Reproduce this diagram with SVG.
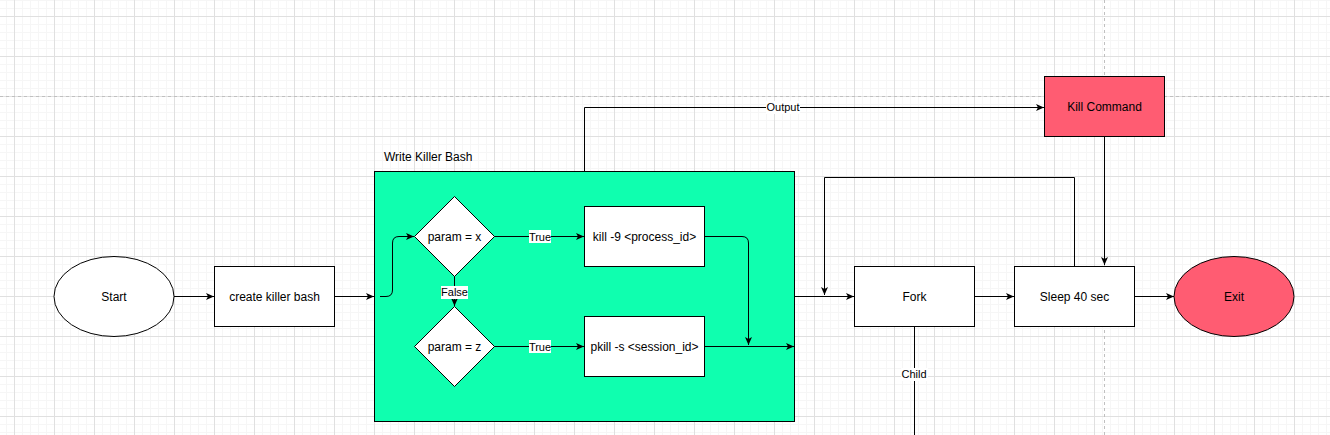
<svg xmlns="http://www.w3.org/2000/svg" width="1330" height="435" viewBox="0 0 1330 435">
<style>
.n{stroke:#000;stroke-width:1}
.t{font-family:"Liberation Sans",Arial,sans-serif;font-size:12px;fill:#000;text-anchor:middle;dominant-baseline:central}
.lb{font-family:"Liberation Sans",Arial,sans-serif;font-size:11px;fill:#000;text-anchor:middle;dominant-baseline:central}
.e{fill:none;stroke:#000;stroke-width:1}
.ea{fill:none;stroke:#000;stroke-width:1;marker-end:url(#arr)}
</style>
<defs>
<marker id="arr" markerWidth="10" markerHeight="8" refX="8" refY="3.5" orient="auto" markerUnits="userSpaceOnUse">
<path d="M0,0 L8,3.5 L0,7 L2,3.5 z" fill="#000"/>
</marker>
<pattern id="grid" x="14" y="16" width="40" height="40" patternUnits="userSpaceOnUse">
<path d="M8.5,0V40M16.5,0V40M24.5,0V40M32.5,0V40M0,8.5H40M0,16.5H40M0,24.5H40M0,32.5H40" stroke="#f6f6f6" stroke-width="1"/>
<path d="M0.5,0V40M0,0.5H40" stroke="#e0e0e0" stroke-width="1"/>
</pattern>
</defs>
<rect width="1330" height="435" fill="#fff"/>
<rect width="1330" height="435" fill="url(#grid)"/>
<path d="M0,96.5H1330M1104.5,0V435" stroke="#c0c0c0" stroke-width="1" stroke-dasharray="3,3"/>

<g id="container">
<rect x="374.5" y="171.5" width="420" height="250" fill="#0FFFAF" class="n"/>
<text x="384" y="157" class="t" style="text-anchor:start">Write Killer Bash</text>
</g>

<g id="connectors">
<path class="ea" d="M174,296.5H214"/>
<path class="ea" d="M334,296.5H374"/>
<path class="ea" d="M380,296.5H386Q392.5,296.5 392.5,290V243Q392.5,236.5 399,236.5H414"/>
<path class="ea" d="M494,236.5H584"/>
<path class="ea" d="M494,346.5H584"/>
<path class="ea" d="M454.5,276V306"/>
<path class="ea" d="M704,236.5H742Q748.5,236.5 748.5,243V345"/>
<path class="ea" d="M704,346.5H794"/>
<path class="ea" d="M584.5,171V107.5H1044"/>
<path class="ea" d="M794,296.5H854"/>
<path class="ea" d="M1074.5,266V177.5H824.5V295"/>
<path class="ea" d="M974,296.5H1014"/>
<path class="ea" d="M1104.5,136V265"/>
<path class="ea" d="M1134,296.5H1174"/>
<path class="e" d="M914.5,326V435"/>
<rect x="529" y="230" width="22" height="13" fill="#fff"/>
<text x="540" y="237" class="lb">True</text>
<rect x="529" y="340" width="22" height="13" fill="#fff"/>
<text x="540" y="347" class="lb">True</text>
<rect x="441" y="286" width="27" height="13" fill="#fff"/>
<text x="454.5" y="292" class="lb">False</text>
<rect x="766" y="101" width="34" height="13" fill="#fff"/>
<text x="783" y="107" class="lb">Output</text>
<rect x="901" y="368" width="27" height="13" fill="#fff"/>
<text x="914" y="374" class="lb">Child</text>
</g>

<g id="start">
<ellipse cx="114" cy="296.5" rx="60" ry="40" fill="#fff" class="n"/>
<text x="114" y="297" class="t">Start</text>
</g>
<g id="create">
<rect x="214.5" y="266.5" width="120" height="60" fill="#fff" class="n"/>
<text x="274.5" y="297" class="t">create killer bash</text>
</g>
<g id="paramx">
<polygon points="454.5,196.5 494.5,236.5 454.5,276.5 414.5,236.5" fill="#fff" class="n"/>
<text x="454.5" y="237" class="t">param = x</text>
</g>
<g id="paramz">
<polygon points="454.5,306.5 494.5,346.5 454.5,386.5 414.5,346.5" fill="#fff" class="n"/>
<text x="454.5" y="347" class="t">param = z</text>
</g>
<g id="kill9">
<rect x="584.5" y="206.5" width="120" height="60" fill="#fff" class="n"/>
<text x="644.5" y="237" class="t">kill -9 &lt;process_id&gt;</text>
</g>
<g id="pkill">
<rect x="584.5" y="316.5" width="120" height="60" fill="#fff" class="n"/>
<text x="644.5" y="347" class="t">pkill -s &lt;session_id&gt;</text>
</g>
<g id="killcmd">
<rect x="1044.5" y="76.5" width="120" height="60" fill="#FF5C72" class="n"/>
<text x="1104.5" y="107" class="t">Kill Command</text>
</g>
<g id="fork">
<rect x="854.5" y="266.5" width="120" height="60" fill="#fff" class="n"/>
<text x="914.5" y="297" class="t">Fork</text>
</g>
<g id="sleep">
<rect x="1014.5" y="266.5" width="120" height="60" fill="#fff" class="n"/>
<text x="1074.5" y="297" class="t">Sleep 40 sec</text>
</g>
<g id="exit">
<ellipse cx="1234" cy="296.5" rx="60" ry="40" fill="#FF5C72" class="n"/>
<text x="1234" y="297" class="t">Exit</text>
</g>
</svg>
